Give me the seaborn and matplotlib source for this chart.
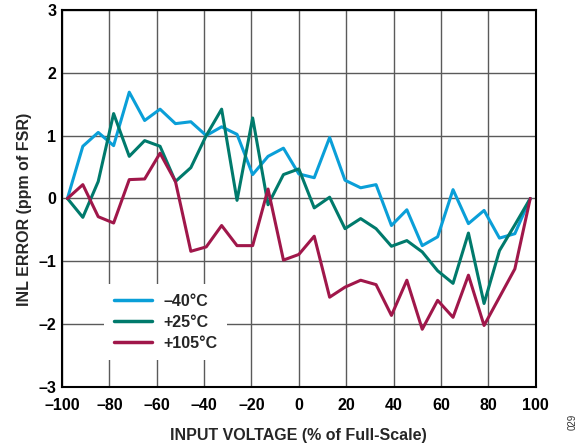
import numpy as np
import pandas as pd
import matplotlib
matplotlib.use("Agg")
import matplotlib.pyplot as plt
import seaborn as sns

x_pct = [-97.7, -91.2, -84.7, -78.2, -71.6, -65.1, -58.6, -52.1, -45.6, -39.1,
         -32.6, -26.1, -19.5, -13.0, -6.5, 0.0, 6.5, 13.0, 19.5, 26.1,
         32.6, 39.1, 45.6, 52.1, 58.6, 65.1, 71.6, 78.2, 84.7, 91.2, 97.7]

inl_m40 = [0.0, 0.83, 1.05, 0.84, 1.69, 1.24, 1.42, 1.19, 1.22, 1.0,
           1.14, 1.02, 0.38, 0.67, 0.80, 0.39, 0.33, 0.97, 0.29, 0.17,
           0.22, -0.43, -0.18, -0.75, -0.61, 0.14, -0.40, -0.19, -0.63, -0.56, 0.0]
inl_p25 = [0.0, -0.30, 0.27, 1.35, 0.67, 0.92, 0.83, 0.27, 0.49, 1.0,
           1.42, -0.03, 1.28, -0.10, 0.38, 0.47, -0.15, 0.02, -0.48, -0.32,
           -0.48, -0.76, -0.67, -0.85, -1.15, -1.35, -0.55, -1.67, -0.83, -0.42, 0.0]
inl_p105 = [0.0, 0.22, -0.29, -0.39, 0.30, 0.31, 0.72, 0.27, -0.84, -0.77,
            -0.43, -0.75, -0.75, 0.15, -0.98, -0.89, -0.60, -1.57, -1.41, -1.30,
            -1.37, -1.86, -1.30, -2.08, -1.62, -1.89, -1.22, -2.02, -1.57, -1.12, 0.0]

series_names = ["\u201340\u00b0C", "+25\u00b0C", "+105\u00b0C"]
series_colors = ["#0A9FD8", "#007A6C", "#A0174A"]

x_ticks = [-100, -80, -60, -40, -20, 0, 20, 40, 60, 80, 100]
y_ticks = [-3, -2, -1, 0, 1, 2, 3]

df = pd.concat([
    pd.DataFrame({"x": x_pct, "y": vals, "series": name})
    for name, vals in zip(series_names, [inl_m40, inl_p25, inl_p105])
], ignore_index=True)

sns.set_theme(style="white")
plt.rcParams["font.family"] = ["Liberation Sans", "DejaVu Sans"]
plt.rcParams["font.weight"] = "bold"

fig = plt.figure(figsize=(5.87, 4.46), dpi=100)
ax = fig.add_axes([0.1056, 0.132, 0.807, 0.846])

sns.lineplot(data=df, x="x", y="y", hue="series", hue_order=series_names,
             palette=series_colors, linewidth=2.2, ax=ax, sort=False,
             estimator=None, zorder=3)

ax.set_xlim(-100, 100)
ax.set_ylim(-3, 3)
ax.set_xticks(x_ticks)
ax.set_yticks(y_ticks)
fmt = lambda v: ("\u2013" + str(abs(v))) if v < 0 else str(v)
ax.set_xticklabels([fmt(v) for v in x_ticks], fontsize=11.5, fontweight="bold")
ax.set_yticklabels([fmt(v) for v in y_ticks], fontsize=11.5, fontweight="bold")
ax.tick_params(axis="both", length=0, colors="black")
ax.tick_params(axis="x", pad=7.5)
ax.tick_params(axis="y", pad=4)
ax.grid(True, color="#5a5a5a", linewidth=1.0, zorder=0)
for s in ax.spines.values():
    s.set_color("black")
    s.set_linewidth(1.5)

ax.set_xlabel("INPUT VOLTAGE (% of Full-Scale)", fontsize=11.5, fontweight="bold", labelpad=11)
ax.set_ylabel("INL ERROR (ppm of FSR)", fontsize=11.5, fontweight="bold", labelpad=6)
ax.yaxis.set_label_coords(-0.064, 0.47)

leg = ax.legend(loc="lower left", bbox_to_anchor=(0.072, 0.05), frameon=True,
                fontsize=11.5, handlelength=2.4, handletextpad=0.7,
                labelspacing=0.38, borderpad=0.6)
leg.get_frame().set_facecolor("white")
leg.get_frame().set_edgecolor("none")
leg.get_frame().set_alpha(1.0)
leg.set_zorder(5)
for t in leg.get_texts():
    t.set_fontweight("bold")
for line in leg.get_lines():
    line.set_linewidth(2.5)

fig.text(0.975, 0.055, "029", rotation=90, fontsize=7, fontweight="normal",
         ha="center", va="center", color="#333333")

fig.savefig("out.png", dpi=100)
